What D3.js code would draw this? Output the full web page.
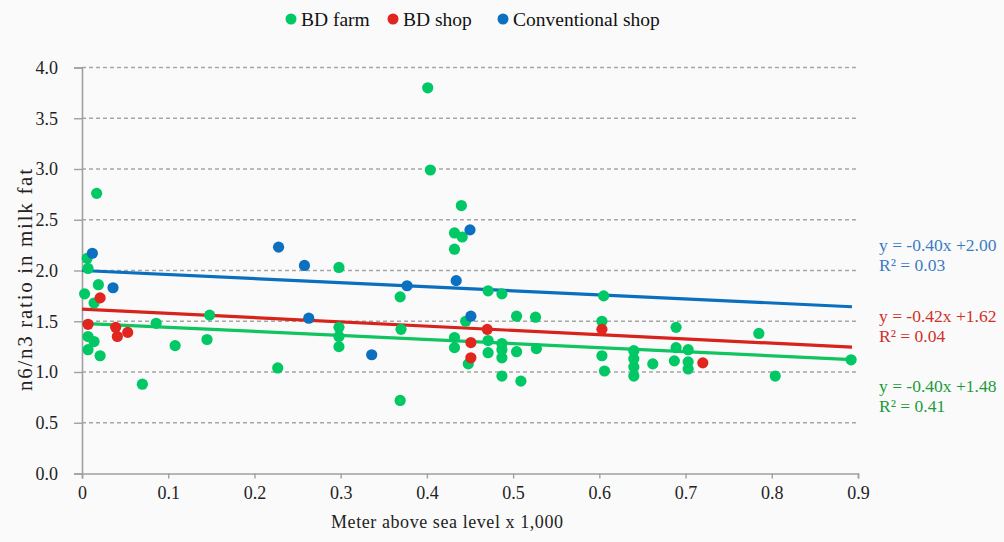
<!DOCTYPE html>
<html>
<head>
<meta charset="utf-8">
<script src="https://cdn.jsdelivr.net/npm/d3@7"></script>
<style>
  body { margin: 0; background: #fafafa; }
  svg { display: block; }
  svg text { font-family: "Liberation Serif", "DejaVu Serif", serif; }
</style>
</head>
<body>
<svg id="chart"></svg>
<script>
const WIDTH = 1004;
const HEIGHT = 542;

// data: [altitude (x1000 m), n6/n3 ratio]
const bdFarm = [
  [0.017, 2.76], [0.006, 2.12], [0.007, 2.02], [0.019, 1.86], [0.003, 1.77], [0.014, 1.68],
  [0.007, 1.35], [0.014, 1.30], [0.007, 1.22], [0.021, 1.16],
  [0.086, 1.48], [0.070, 0.88], [0.108, 1.26], [0.148, 1.56], [0.145, 1.32], [0.227, 1.04],
  [0.298, 2.03], [0.298, 1.44], [0.298, 1.35], [0.298, 1.25],
  [0.369, 1.74], [0.370, 1.42], [0.369, 0.72], [0.401, 3.80], [0.404, 2.99],
  [0.440, 2.64], [0.432, 2.37], [0.441, 2.33], [0.432, 2.21],
  [0.471, 1.80], [0.487, 1.77], [0.504, 1.55], [0.526, 1.54], [0.445, 1.50],
  [0.432, 1.34], [0.432, 1.24], [0.448, 1.08], [0.471, 1.31], [0.471, 1.19],
  [0.487, 1.28], [0.487, 1.22], [0.487, 1.14], [0.487, 0.96], [0.504, 1.20], [0.509, 0.91], [0.527, 1.23],
  [0.605, 1.75], [0.603, 1.50], [0.603, 1.16], [0.606, 1.01],
  [0.640, 1.21], [0.640, 1.13], [0.640, 1.05], [0.640, 0.96],
  [0.662, 1.08], [0.689, 1.44], [0.689, 1.24], [0.687, 1.11], [0.703, 1.22], [0.703, 1.10], [0.703, 1.03],
  [0.785, 1.38], [0.804, 0.96], [0.892, 1.12]
];
const bdShop = [
  [0.007, 1.47], [0.021, 1.73], [0.039, 1.44], [0.041, 1.35], [0.053, 1.39],
  [0.470, 1.42], [0.451, 1.29], [0.451, 1.14], [0.603, 1.42], [0.720, 1.09]
];
const convShop = [
  [0.012, 2.17], [0.036, 1.83], [0.228, 2.23], [0.258, 2.05], [0.263, 1.53],
  [0.336, 1.17], [0.377, 1.85], [0.434, 1.90], [0.450, 2.40], [0.451, 1.55]
];

const seriesNames = ["BD farm", "BD shop", "Conventional shop"];
const slopes = [-0.40, -0.42, -0.40];
const intercepts = [1.48, 1.62, 2.00];
const r2 = ["0.41", "0.04", "0.03"];
const xTicks = [0, 0.1, 0.2, 0.3, 0.4, 0.5, 0.6, 0.7, 0.8, 0.9];
const yTicks = [0, 0.5, 1, 1.5, 2, 2.5, 3, 3.5, 4];

const pointColors = ["#00c864", "#e0261e", "#0a70bf"];
const lineColors = ["#10c460", "#d8231c", "#0a6fbe"];
const textColors = ["#1e9a3c", "#d0302a", "#3a7cc4"];

const svg = d3.select("#chart").attr("width", WIDTH).attr("height", HEIGHT);
svg.append("rect").attr("width", WIDTH).attr("height", HEIGHT).attr("fill", "#fafafa");

const x = d3.scaleLinear().domain([0, 0.9]).range([82, 858]);
const y = d3.scaleLinear().domain([0, 4]).range([473.5, 67.5]);

// grid
svg.append("g")
  .selectAll("line")
  .data(yTicks.filter((d) => d > 0))
  .join("line")
  .attr("x1", x(0))
  .attr("x2", x(0.9))
  .attr("y1", (d) => y(d))
  .attr("y2", (d) => y(d))
  .attr("stroke", "#a6a6a6")
  .attr("stroke-width", 1.5)
  .attr("stroke-dasharray", "4,3");

// axes
const xAxis = svg.append("g")
  .attr("transform", `translate(0, ${y(0)})`)
  .call(d3.axisBottom(x).tickValues(xTicks).tickSize(5).tickFormat((d) => (d === 0 ? "0" : d3.format(".1f")(d))));
const yAxis = svg.append("g")
  .attr("transform", `translate(${x(0)}, 0)`)
  .call(d3.axisLeft(y).tickValues(yTicks).tickSize(8).tickFormat(d3.format(".1f")));

[xAxis, yAxis].forEach((g) => {
  g.attr("font-family", null).attr("font-size", null);
  g.select(".domain").attr("stroke", "#a0a0a0").attr("stroke-width", 1.6);
  g.selectAll(".tick line").attr("stroke", "#a0a0a0").attr("stroke-width", 1.4);
  g.selectAll(".tick text")
    .attr("fill", "#222")
    .style("font-size", "18px")
    .style("font-family", "'Liberation Serif', serif");
});
xAxis.selectAll(".tick text").attr("y", 13).attr("dy", "0.71em");
yAxis.selectAll(".tick text").attr("x", -24);

// trend lines
const allSeries = [bdFarm, bdShop, convShop];
svg.append("g")
  .selectAll("line")
  .data(slopes)
  .join("line")
  .attr("x1", x(0))
  .attr("x2", x(0.893))
  .attr("y1", (d, i) => y(intercepts[i]))
  .attr("y2", (d, i) => y(intercepts[i] + d * 0.893))
  .attr("stroke", (d, i) => lineColors[i])
  .attr("stroke-width", 3.2);

// points
allSeries.forEach((data, i) => {
  svg.append("g")
    .selectAll("circle")
    .data(data)
    .join("circle")
    .attr("cx", (d) => x(d[0]))
    .attr("cy", (d) => y(d[1]))
    .attr("r", 5.6)
    .attr("fill", pointColors[i]);
});

// equations
const eqTop = [386, 316, 245];
const eq = svg.append("g")
  .selectAll("g")
  .data(slopes)
  .join("g")
  .attr("transform", (d, i) => `translate(879, ${eqTop[i]})`)
  .attr("fill", (d, i) => textColors[i])
  .attr("font-size", 17.5);
eq.append("text")
  .attr("dy", "0.35em")
  .text((d, i) => `y = ${d.toFixed(2)}x +${intercepts[i].toFixed(2)}`);
eq.append("text")
  .attr("y", 20)
  .attr("dy", "0.35em")
  .text((d, i) => `R² = ${r2[i]}`);

// legend
const legendX = [291, 393, 503];
const legend = svg.append("g")
  .selectAll("g")
  .data(seriesNames)
  .join("g")
  .attr("transform", (d, i) => `translate(${legendX[i]}, 19)`);
legend.append("circle").attr("r", 5.5).attr("fill", (d, i) => pointColors[i]);
legend.append("text")
  .attr("x", 10)
  .attr("dy", "0.35em")
  .attr("font-size", 19.5)
  .attr("fill", "#111")
  .text((d) => d);

// axis titles
svg.append("text")
  .attr("x", 447)
  .attr("y", 522)
  .attr("dy", "0.35em")
  .attr("text-anchor", "middle")
  .attr("font-size", 18)
  .attr("textLength", 232)
  .attr("fill", "#222")
  .text("Meter above sea level x 1,000");
svg.append("text")
  .attr("transform", "translate(25, 280) rotate(-90)")
  .attr("dy", "0.35em")
  .attr("text-anchor", "middle")
  .attr("font-size", 21)
  .attr("textLength", 222)
  .attr("fill", "#222")
  .text("n6/n3 ratio in milk fat");
</script>
</body>
</html>
